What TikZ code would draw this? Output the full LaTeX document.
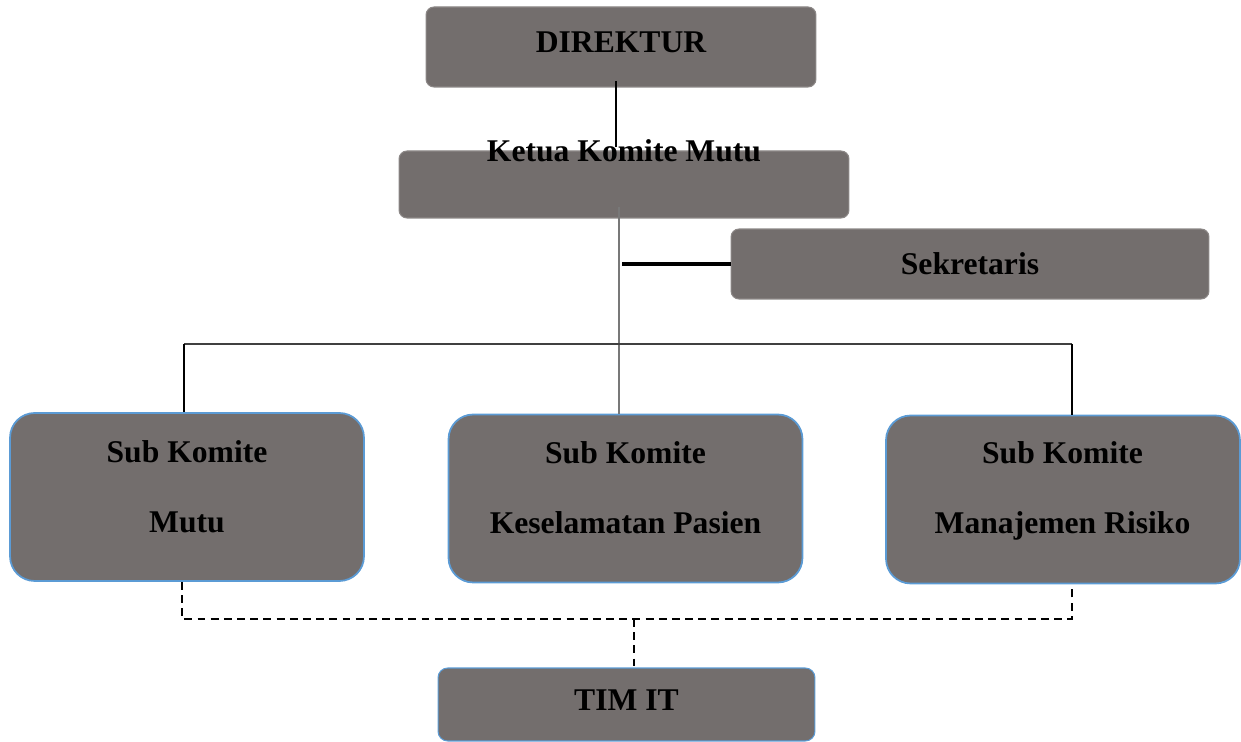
\documentclass[tikz,border=0pt]{standalone}
\usepackage{fontspec}
\setmainfont{Liberation Serif}
\definecolor{BoxFill}{RGB}{115,110,109}
\definecolor{BoxLine}{RGB}{140,136,135}
\definecolor{SubLine}{RGB}{91,155,213}
\definecolor{SpineLine}{RGB}{120,120,120}
\definecolor{BusLine}{RGB}{64,64,64}
\usetikzlibrary{calc, positioning}

\tikzset{
  orgbox/.style = {draw = BoxLine, fill = BoxFill, line width = 0.6pt,
    rounded corners = 4.5pt, inner sep = 0pt,
    font = \fontsize{18}{22}\selectfont\bfseries},
  subbox/.style = {orgbox, draw = SubLine, line width = 1pt, rounded corners = 14pt},
  subtext/.style = {align = center, font = \fontsize{18}{40}\selectfont\bfseries},
  link/.style = {line width = 1.5pt},
  dashlink/.style = {line width = 1.4pt, dash pattern = on 4.5pt off 3pt},
}

\begin{document}
\begin{tikzpicture}[x = 0.02cm, y = -0.02cm]

\useasboundingbox (0, 0) rectangle (1241, 742);

\node[orgbox, text depth = 0.2cm, minimum width = 7.8cm, minimum height = 1.6cm] (direktur) at (621, 47) {DIREKTUR};
\node[orgbox, minimum width = 9cm, minimum height = 1.34cm] (ketua) at (624, 184.5) {};
\node[subtext] (ketuatext) at (ketua.north) {Ketua Komite Mutu};
\node[orgbox, minimum width = 9.56cm, minimum height = 1.4cm] (sekretaris) at (970, 264) {Sekretaris};

\node[subbox, minimum width = 7.08cm, minimum height = 3.36cm] (mutu) at (187, 497) {};
\node[subbox, minimum width = 7.08cm, minimum height = 3.36cm] (keselamatan) at (625.5, 498.5) {};
\node[subbox, minimum width = 7.08cm, minimum height = 3.36cm] (manajemen) at (1063, 499.5) {};
\node[subtext] (mututext) at (187, 487) {Sub Komite\\Mutu};
\node[subtext] (keselamatantext) at (625.5, 488) {Sub Komite\\Keselamatan Pasien};
\node[subtext] (manajementext) at (1062.5, 491) {Sub Komite\\Manajemen Risiko};

\node[orgbox, draw = SubLine, rounded corners = 5.5pt, text depth = 0.18cm, minimum width = 7.54cm, minimum height = 1.46cm] (timit) at (626.5, 704.5) {TIM IT};

\coordinate (top) at (616, 81);
\coordinate (spine) at (619, 207);
\coordinate (busL) at (184, 344);
\coordinate (busR) at (1072, 344);
\coordinate (dashL) at (182, 619);
\coordinate (dashR) at (1072, 619);
\coordinate (dashM) at (634, 619);

\draw[link] (top) -- ($(top |- ketua.north) + (0, -3)$);
\draw[link, SpineLine] (spine) -- (spine |- keselamatan.north);
\draw[link, line width = 2pt] (sekretaris.west) -- ($(sekretaris.west -| spine) + (3, 0)$);
\draw[link, BusLine] (busL) -- (busR);
\draw[link] (busL) -- (busL |- mutu.north);
\draw[link] (busR) -- (busR |- manajemen.north);

\draw[dashlink] (dashL |- mutu.south) -- (dashL) -- (dashR) -- (dashR |- manajemen.south);
\draw[dashlink] (dashM) -- (dashM |- timit.north);

\end{tikzpicture}
\end{document}
